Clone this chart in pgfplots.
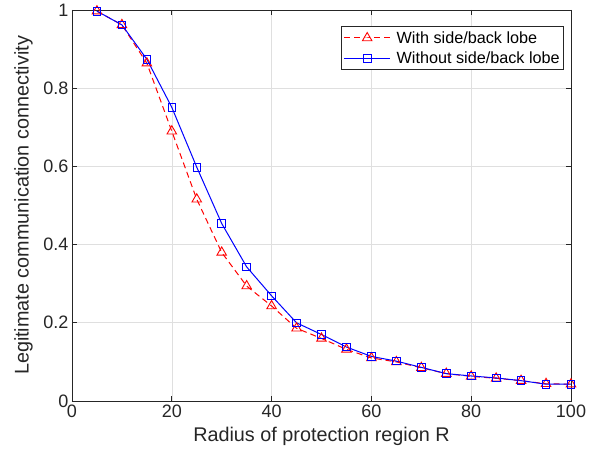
\documentclass[border=0pt]{standalone}
\usepackage{pgfplots}
\pgfplotsset{compat=1.18}
\usepackage{fontspec}
\setmainfont{Liberation Sans}
\definecolor{axgray}{HTML}{262626}
\definecolor{gridgray}{HTML}{DFDFDF}

\begin{document}
\begin{tikzpicture}[x=1bp,y=1bp]
\begin{axis}[
    name=ax,
    scale only axis,
    width=499bp, height=391bp,
    xmin=0, xmax=100,
    ymin=0, ymax=1,
    xtick={0,20,...,100},
    ytick={0,0.2,...,1},
    yticklabels={0,0.2,0.4,0.6,0.8,1},
    tick align=inside,
    major tick length=5bp,
    xmajorgrids=true, ymajorgrids=true,
    grid style={gridgray, line width=0.6bp},
    axis line style={axgray, line width=0.8bp},
    every tick/.style={axgray, line width=0.8bp},
    tick label style={font=\fontsize{18bp}{21bp}\selectfont, text=axgray},
    /pgf/number format/assume math mode=true,
    label style={font=\fontsize{19.8bp}{23bp}\selectfont, text=axgray},
    xlabel={Radius of protection region R},
    ylabel={Legitimate communication connectivity},
    xlabel style={yshift=-3bp},
    ylabel style={yshift=4bp},
    legend style={
        at={(0.986,0.959)}, anchor=north east,
        font=\fontsize{16.2bp}{19bp}\selectfont,
        draw=axgray, line width=0.7bp,
        inner xsep=2bp, inner ysep=3bp,
        row sep=3bp,
        cells={anchor=west},
    },
    legend image code/.code={
        \draw[mark repeat=2, mark phase=2] plot coordinates {(0bp,0bp) (23bp,0bp) (46bp,0bp)};
        \path (50bp,0bp);
    },
]

\addplot[red, dash pattern=on 6bp off 4bp, line width=1bp, mark=triangle, mark size=5.5bp, mark options={solid, line width=0.9bp}] coordinates {
(5,0.997)
(10,0.962)
(15,0.864)
(20,0.690)
(25,0.516)
(30,0.380)
(35,0.294)
(40,0.243)
(45,0.186)
(50,0.160)
(55,0.132)
(60,0.110)
(65,0.100)
(70,0.085)
(75,0.070)
(80,0.063)
(85,0.058)
(90,0.052)
(95,0.044)
(100,0.043)
};

\addplot[blue, line width=1bp, mark=square, mark size=3.8bp, mark options={solid, line width=0.9bp}] coordinates {
(5,0.997)
(10,0.962)
(15,0.874)
(20,0.751)
(25,0.598)
(30,0.454)
(35,0.343)
(40,0.269)
(45,0.200)
(50,0.170)
(55,0.138)
(60,0.114)
(65,0.102)
(70,0.086)
(75,0.070)
(80,0.064)
(85,0.059)
(90,0.052)
(95,0.043)
(100,0.043)
};

\legend{With side/back lobe, Without side/back lobe}
\end{axis}
\pgfresetboundingbox
\path[use as bounding box] ([shift={(-72bp,-58bp)}]ax.south west) rectangle ([shift={(32bp,10bp)}]ax.north east);
\end{tikzpicture}
\end{document}
